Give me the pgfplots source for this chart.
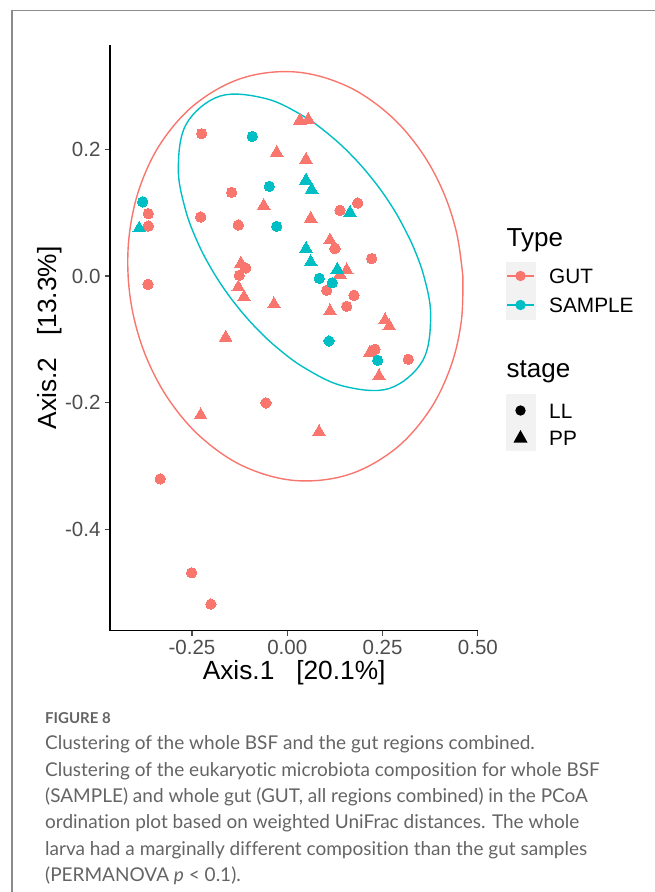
\documentclass[border=0pt]{standalone}
\usepackage{pgfplots}
\pgfplotsset{compat=1.18}
\usepackage{fontspec}
\setmainfont{Liberation Sans}
\newfontfamily\capfont[Ligatures=NoCommon]{Lato}
\definecolor{gutred}{HTML}{F8766D}
\definecolor{samplecyan}{HTML}{00BFC4}
\definecolor{gray30}{RGB}{77,77,77}
\definecolor{keybg}{RGB}{242,242,242}
\definecolor{capgray}{RGB}{100,100,100}
\definecolor{framegray}{RGB}{140,140,140}
\begin{document}
\begin{tikzpicture}
\path[use as bounding box] (0pt,0pt) rectangle (655pt,-892pt);
\draw[framegray, line width=1.3pt] (655pt,-10.5pt) -- (12pt,-10.5pt) -- (12pt,-892pt);
\begin{axis}[
  at={(110pt,-630.7pt)}, anchor=south west,
  width=368.3pt, height=585.7pt, scale only axis,
  xmin=-0.465, xmax=0.501, ymin=-0.559, ymax=0.364,
  axis x line*=bottom, axis y line*=left,
  axis line style={line width=1.1pt, -, black},
  xtick={-0.25,0,0.25,0.5}, xticklabels={-0.25,0.00,0.25,0.50},
  ytick={-0.4,-0.2,0,0.2}, yticklabels={-0.4,-0.2,0.0,0.2},
  tick align=outside, major tick length=5.5pt,
  tick style={line width=1.1pt, color=gray30},
  ticklabel style={font=\fontsize{20.5}{20.5}\selectfont, text=gray30},
  yticklabel style={xshift=-0.5pt},
  xlabel={Axis.1\ \ \ [20.1\%]},
  ylabel={Axis.2\ \ \ [13.3\%]},
  xlabel style={at={(axis description cs:0.5,-0.0715)}, anchor=center, font=\fontsize{26.3}{26.3}\selectfont},
  ylabel style={at={(axis description cs:-0.163,0.5)}, anchor=center, font=\fontsize{26.3}{26.3}\selectfont},
]
% GUT, LL
\addplot[only marks, color=gutred, mark=*, mark size=5.2pt, mark options={solid, line width=0pt}] coordinates {
(-0.2246,0.2243) (-0.3646,0.0983) (-0.3646,0.0787) (-0.1459,0.1318) (-0.2272,0.0929)
(-0.1285,0.0803) (-0.3654,-0.0131) (-0.1091,0.0126) (-0.1259,0.0011) (0.1382,0.1035)
(0.1847,0.1150) (0.1251,0.0431) (0.2214,0.0274) (0.1034,-0.0225) (0.1750,-0.0304)
(0.1558,-0.0477) (0.2301,-0.1154) (0.3174,-0.1312) (-0.0559,-0.2000) (-0.3332,-0.3197)
(-0.2508,-0.4677) (-0.2002,-0.5170)
};
% GUT, PP
\addplot[only marks, color=gutred, mark=triangle*, mark size=7.3pt, mark options={solid, line width=0pt}] coordinates {
(0.0333,0.2452) (0.0551,0.2463) (-0.0278,0.1943) (0.0491,0.1833) (-0.0619,0.1106)
(0.0614,0.0904) (-0.1215,0.0195) (-0.1285,-0.0178) (-0.1136,-0.0331) (-0.0349,-0.0446)
(0.1120,0.0562) (0.1382,0.0022) (0.1558,0.0090) (0.1120,-0.0556) (0.2563,-0.0698)
(0.2676,-0.0792) (0.2169,-0.1206) (0.2406,-0.1580) (-0.1616,-0.0970) (-0.2272,-0.2194)
(0.0832,-0.2457)
};
% SAMPLE, LL
\addplot[only marks, color=samplecyan, mark=*, mark size=5.2pt, mark options={solid, line width=0pt}] coordinates {
(-0.3793,0.1169) (-0.0918,0.2200) (-0.0472,0.1413) (-0.0278,0.0783) (0.0839,-0.0036)
(0.1180,-0.0107) (0.1094,-0.1024) (0.2371,-0.1328)
};
% SAMPLE, PP
\addplot[only marks, color=samplecyan, mark=triangle*, mark size=7.3pt, mark options={solid, line width=0pt}] coordinates {
(-0.3882,0.0751) (0.0491,0.1507) (0.0640,0.1361) (0.1645,0.0998) (0.0491,0.0431)
(0.0614,0.0220) (0.1312,0.0101)
};
% ellipse GUT
\addplot[gutred, line width=1.4pt, smooth, tension=0.6, mark=none] coordinates {
(0.4605,-0.0005) (0.4566,-0.0704) (0.4293,-0.1418) (0.3732,-0.2116) (0.2831,-0.2725)
(0.1609,-0.3129) (0.0215,-0.3224) (-0.1124,-0.3005) (-0.2237,-0.2555) (-0.3073,-0.1979)
(-0.3653,-0.1345) (-0.4013,-0.0685) (-0.4174,-0.0005) (-0.4135,0.0695) (-0.3863,0.1409)
(-0.3302,0.2107) (-0.2401,0.2715) (-0.1179,0.3119) (0.0215,0.3215) (0.1554,0.2995)
(0.2668,0.2545) (0.3504,0.1969) (0.4083,0.1336) (0.4443,0.0675) (0.4605,-0.0005)
};
% ellipse SAMPLE
\addplot[samplecyan, line width=1.4pt, smooth, tension=0.6, mark=none] coordinates {
(0.3254,0.0531) (0.3568,0.0029) (0.3760,-0.0616) (0.3554,-0.1332) (0.2668,-0.1774)
(0.1462,-0.1734) (0.0451,-0.1448) (-0.0286,-0.1121) (-0.0836,-0.0808) (-0.1277,-0.0507)
(-0.1659,-0.0201) (-0.2012,0.0134) (-0.2352,0.0531) (-0.2665,0.1032) (-0.2858,0.1678)
(-0.2651,0.2393) (-0.1765,0.2835) (-0.0560,0.2795) (0.0451,0.2509) (0.1188,0.2182)
(0.1738,0.1869) (0.2179,0.1568) (0.2561,0.1262) (0.2914,0.0927) (0.3254,0.0531)
};
\end{axis}
% legend
\node[anchor=base west, inner sep=0pt, font=\fontsize{26}{26}\selectfont] at (506.5pt,-246pt) {Type};
\fill[keybg] (505.5pt,-261.5pt) rectangle (535.5pt,-319.5pt);
\draw[gutred, line width=1.4pt] (507pt,-276pt) -- (534pt,-276pt);
\fill[gutred] (520.5pt,-276pt) circle (5.2pt);
\draw[samplecyan, line width=1.4pt] (507pt,-305pt) -- (534pt,-305pt);
\fill[samplecyan] (520.5pt,-305pt) circle (5.2pt);
\node[anchor=west, inner sep=0pt, font=\fontsize{20.8}{20.8}\selectfont] at (549pt,-276.5pt) {GUT};
\node[anchor=west, inner sep=0pt, font=\fontsize{20.8}{20.8}\selectfont] at (549pt,-305.5pt) {SAMPLE};
\node[anchor=base west, inner sep=0pt, font=\fontsize{26}{26}\selectfont] at (506.5pt,-377pt) {stage};
\fill[keybg] (505.5pt,-394pt) rectangle (535.5pt,-451pt);
\fill[black] (520.5pt,-410.5pt) circle (5.2pt);
\fill[black] (520.5pt,-430pt) -- (527.5pt,-442.5pt) -- (513.5pt,-442.5pt) -- cycle;
\node[anchor=west, inner sep=0pt, font=\fontsize{20.8}{20.8}\selectfont] at (549pt,-411pt) {LL};
\node[anchor=west, inner sep=0pt, font=\fontsize{20.8}{20.8}\selectfont] at (549pt,-438pt) {PP};
% caption
\node[anchor=base west, inner sep=0pt, font=\capfont\bfseries\fontsize{15}{15}\selectfont, text=capgray] at (45pt,-723pt) {FIGURE 8};
\begin{scope}[every node/.style={anchor=base west, inner sep=0pt, font=\capfont\fontsize{19}{19}\selectfont, text=capgray}]
\node at (45pt,-749.5pt) {Clustering of the whole BSF and the gut regions combined.};
\node at (45pt,-776pt) {Clustering of the eukaryotic microbiota composition for whole BSF};
\node at (45pt,-802.3pt) {(SAMPLE) and whole gut (GUT, all regions combined) in the PCoA};
\node at (45pt,-828.6pt) {ordination plot based on weighted UniFrac distances. The whole};
\node at (45pt,-855pt) {larva had a marginally different composition than the gut samples};
\node at (45pt,-881pt) {(PERMANOVA \textit{p} < 0.1).};
\end{scope}
\end{tikzpicture}
\end{document}
